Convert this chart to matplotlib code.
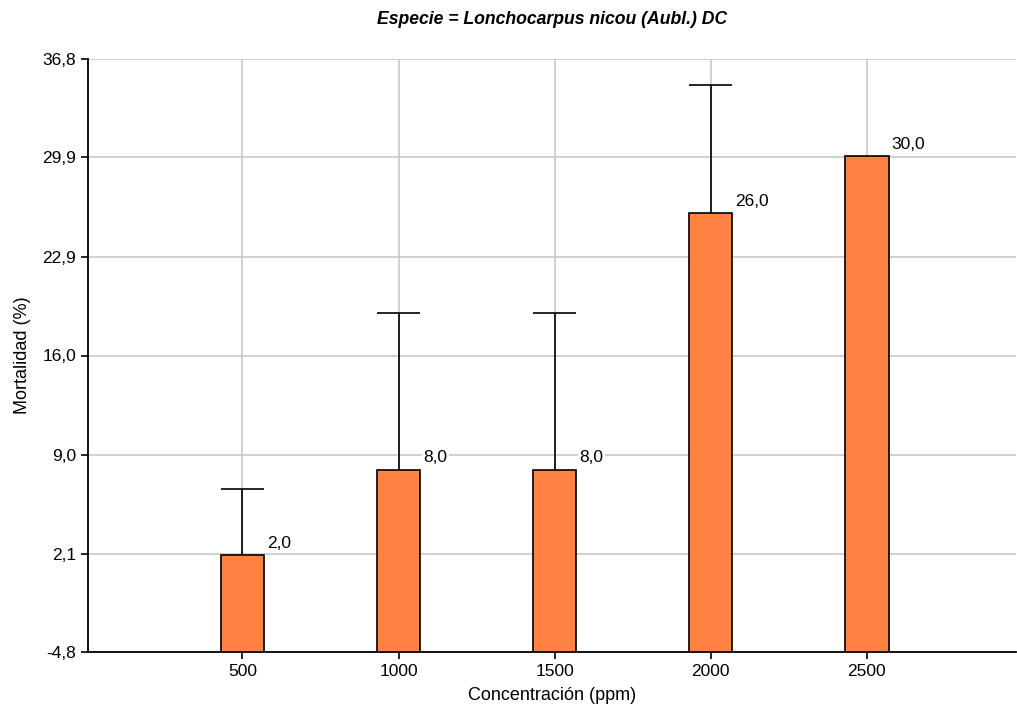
import matplotlib.pyplot as plt

# Mortalidad por concentración
concentraciones = ['500', '1000', '1500', '2000', '2500']
mortalidad = [2.0, 8.0, 8.0, 26.0, 30.0]
error_sup = [4.6, 11.0, 11.0, 9.0, 0.0]
yticks = [-4.8, 2.1, 9.0, 16.0, 22.9, 29.9, 36.8]

plt.rcParams['font.family'] = ['Liberation Sans', 'DejaVu Sans']

fig = plt.figure(figsize=(10.17, 7.11), dpi=100)
ax = fig.add_axes([0.0865, 0.083, 0.913, 0.834])

base = yticks[0]
ancho = 0.28
x = list(range(len(concentraciones)))
alturas = [m - base for m in mortalidad]
ax.bar(x, alturas, bottom=base, width=ancho, color='#ff8243', edgecolor='black',
       linewidth=1.2, zorder=3)

# barras de error solo hacia arriba
for xi, m, e in zip(x, mortalidad, error_sup):
    if e > 0:
        ax.vlines(xi, m, m + e, color='black', linewidth=1.2, zorder=2)
        ax.hlines(m + e, xi - ancho / 2, xi + ancho / 2, color='black',
                  linewidth=1.2, zorder=2)

for xi, m in zip(x, mortalidad):
    ax.text(xi + 0.16, m + 0.3, f'{m:.1f}'.replace('.', ','), fontsize=12.5,
            ha='left', va='bottom', zorder=4,
            bbox=dict(facecolor='white', edgecolor='none', pad=1))

ax.set_xlim(-0.99, 4.96)
ax.set_ylim(yticks[0], yticks[-1])
ax.set_xticks(x)
ax.set_xticklabels(concentraciones)
ax.set_yticks(yticks)
ax.set_yticklabels([f'{t:.1f}'.replace('.', ',') for t in yticks])
ax.tick_params(labelsize=12.5, length=5, width=1.2)

ax.grid(True, color='#c8c8c8', linewidth=1.2, zorder=0)
ax.set_axisbelow(True)
for s in ['top', 'right']:
    ax.spines[s].set_visible(False)
for s in ['left', 'bottom']:
    ax.spines[s].set_linewidth(1.3)

ax.set_xlabel('Concentración (ppm)', fontsize=13, labelpad=6)
ax.set_ylabel('Mortalidad (%)', fontsize=13, labelpad=8)
ax.set_title('Especie = Lonchocarpus nicou (Aubl.) DC', fontsize=12.7,
             fontweight='bold', fontstyle='italic', pad=25)

fig.savefig('out.png', dpi=100)
